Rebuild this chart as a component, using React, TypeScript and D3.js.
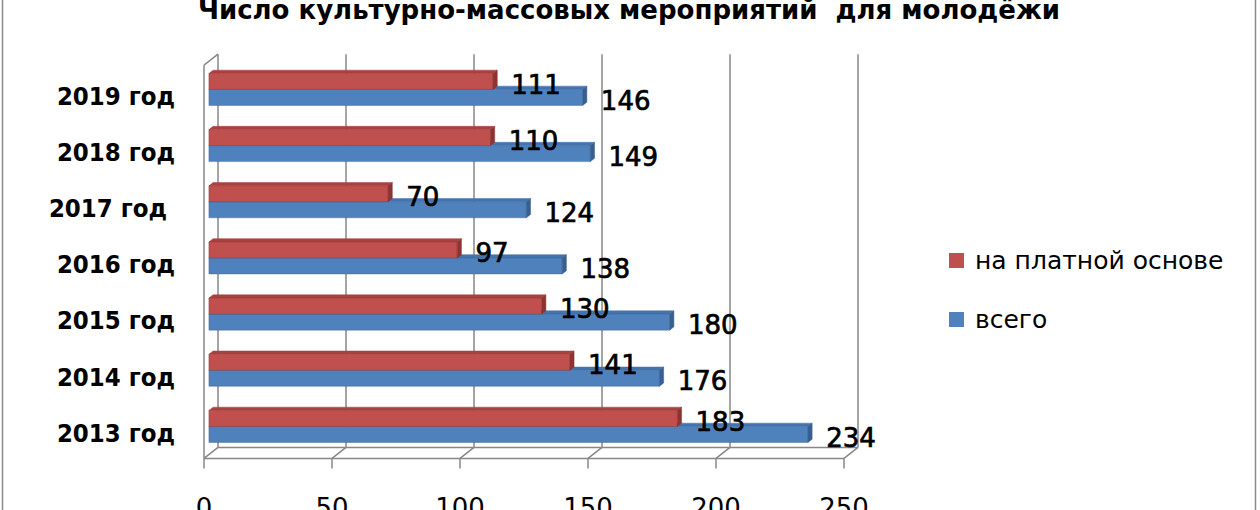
import * as d3 from "d3";

const categories = ["2019 год", "2018 год", "2017 год\u00A0", "2016 год", "2015 год", "2014 год", "2013 год"];
const paidValues = [111, 110, 70, 97, 130, 141, 183];
const totalValues = [146, 149, 124, 138, 180, 176, 234];
const seriesNames = ["на платной основе", "всего"];
const xTicks = [0, 50, 100, 150, 200, 250];
const title = "Число культурно-массовых мероприятий\u00A0 для молодёжи";

const W = 1260;
const H = 510;
const FONT = "'DejaVu Sans', sans-serif";

// front plane of the 3D plot box
const plot = { left: 204, right: 844, top: 65.2, bottom: 458.4 };
const depth = { dx: 14, dy: -11 };
const at = (t: number) => ({ dx: depth.dx * t, dy: depth.dy * t });
const barFront = at(0.35);
const barBack = at(0.65);

const colors = {
  paid: { front: "#C0504D", top: "#A9423F", side: "#8C3432" },
  total: { front: "#4F81BD", top: "#4474AE", side: "#38608E" },
};
const grid = "#878787";

type Shade = { front: string; top: string; side: string };

function pts(p: [number, number][]) {
  return p.map((d) => d.join(",")).join(" ");
}

function Bar3D({ x0, x1, y, h, c }: { x0: number; x1: number; y: number; h: number; c: Shade }) {
  const f = barFront;
  const b = barBack;
  const front: [number, number][] = [
    [x0 + f.dx, y + f.dy],
    [x1 + f.dx, y + f.dy],
    [x1 + f.dx, y + h + f.dy],
    [x0 + f.dx, y + h + f.dy],
  ];
  const top: [number, number][] = [
    [x0 + f.dx, y + f.dy],
    [x1 + f.dx, y + f.dy],
    [x1 + b.dx, y + b.dy],
    [x0 + b.dx, y + b.dy],
  ];
  const side: [number, number][] = [
    [x1 + f.dx, y + f.dy],
    [x1 + b.dx, y + b.dy],
    [x1 + b.dx, y + h + b.dy],
    [x1 + f.dx, y + h + f.dy],
  ];
  return (
    <g>
      <polygon points={pts(top)} fill={c.top} stroke={c.top} strokeWidth={0.5} />
      <polygon points={pts(front)} fill={c.front} stroke={c.side} strokeWidth={0.4} />
      <polygon points={pts(side)} fill={c.side} stroke={c.side} strokeWidth={0.5} />
    </g>
  );
}

export default function App() {
  const x = d3.scaleLinear().domain([0, 250]).range([plot.left, plot.right]);
  const y = d3
    .scaleBand<string>()
    .domain(categories)
    .range([plot.top, plot.bottom])
    .paddingInner(0.43)
    .paddingOuter(0.215);
  const s = d3.scaleBand<string>().domain(["paid", "total"]).range([0, y.bandwidth()]);

  const rows = categories.map((cat, i) => ({ cat, paid: paidValues[i], total: totalValues[i] }));

  return (
    <svg
      width={W}
      height={H}
      style={{ position: "absolute", left: 0, top: 0, display: "block", background: "#fff" }}
      fontFamily={FONT}
    >
      <rect x={2.5} y={-10} width={1253} height={H + 20} fill="#fff" stroke="#8a8a8a" strokeWidth={1.5} />

      <text x={629} y={19} textAnchor="middle" fontSize={26} fontWeight="bold" fill="#000">
        {title}
      </text>

      {/* walls and floor */}
      <g stroke={grid} strokeWidth={1.5} fill="none">
        {xTicks.map((t) => (
          <g key={t}>
            <line x1={x(t) + depth.dx} x2={x(t) + depth.dx} y1={plot.top + depth.dy} y2={plot.bottom + depth.dy} />
            <line x1={x(t)} y1={plot.bottom} x2={x(t) + depth.dx} y2={plot.bottom + depth.dy} />
            <line x1={x(t)} x2={x(t)} y1={plot.bottom} y2={plot.bottom + 10} />
          </g>
        ))}
        <line x1={x(0)} x2={x(250)} y1={plot.bottom} y2={plot.bottom} />
        <line x1={x(0) + depth.dx} x2={x(250) + depth.dx} y1={plot.bottom + depth.dy} y2={plot.bottom + depth.dy} />
        <line x1={x(0)} x2={x(0)} y1={plot.top} y2={plot.bottom} />
        <line x1={x(0)} y1={plot.top} x2={x(0) + depth.dx} y2={plot.top + depth.dy} />
      </g>

      {/* bars */}
      {rows.map((r) => {
        const yb = y(r.cat)!;
        return (
          <g key={r.cat}>
            <Bar3D x0={x(0)} x1={x(r.total)} y={yb + s("total")!} h={s.bandwidth()} c={colors.total} />
            <Bar3D x0={x(0)} x1={x(r.paid)} y={yb + s("paid")!} h={s.bandwidth()} c={colors.paid} />
          </g>
        );
      })}

      {/* value labels */}
      <g fontSize={26} fill="#000" stroke="#000" strokeWidth={0.7}>
        {rows.map((r) => {
          const yb = y(r.cat)!;
          const cp = yb + s("paid")! + s.bandwidth() / 2 + barFront.dy;
          const ct = yb + s("total")! + s.bandwidth() / 2 + barFront.dy;
          return (
            <g key={r.cat}>
              <text x={x(r.paid) + barBack.dx + 14} y={cp + 12.2}>
                {r.paid}
              </text>
              <text x={x(r.total) + barBack.dx + 14} y={ct + 12.2}>
                {r.total}
              </text>
            </g>
          );
        })}
      </g>

      {/* category labels, slightly condensed like the original font */}
      <g fontSize={25.5} fontWeight="bold" textAnchor="end" fill="#000">
        {rows.map((r) => (
          <text
            key={r.cat}
            transform={`translate(175,${y(r.cat)! + y.bandwidth() / 2 + 11.5}) scale(0.9,1)`}
          >
            {r.cat}
          </text>
        ))}
      </g>

      {/* x tick labels */}
      <g fontSize={26} textAnchor="middle" fill="#000">
        {xTicks.map((t) => (
          <text key={t} x={x(t)} y={517}>
            {t}
          </text>
        ))}
      </g>

      {/* legend */}
      <g fontSize={25} fill="#000">
        {seriesNames.map((name, i) => (
          <g key={name} transform={`translate(949,${253 + i * 59})`}>
            <rect width={15} height={15} fill={i === 0 ? colors.paid.front : colors.total.front} />
            <text x={26} y={16}>
              {name}
            </text>
          </g>
        ))}
      </g>
    </svg>
  );
}
